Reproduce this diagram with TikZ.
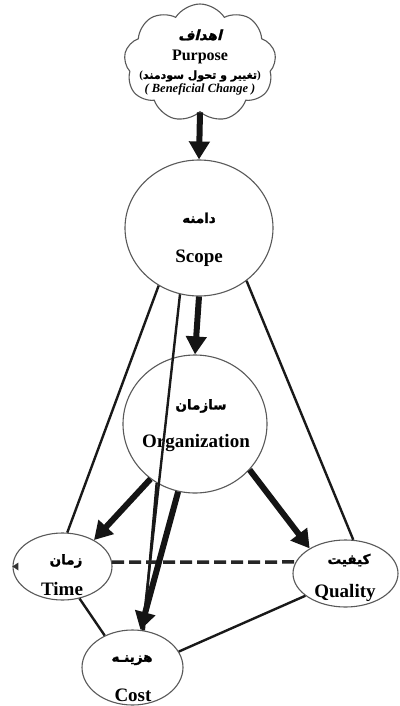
\documentclass[tikz,border=0pt]{standalone}
\usepackage{fontspec}
\setmainfont{Liberation Serif}
\newfontfamily\faB[Script=Arabic,FakeBold=1.5]{DejaVu Sans Bold}
\newfontfamily\faSl[Script=Arabic,FakeSlant=0.25,FakeBold=1.5]{DejaVu Sans Bold}
\TeXXeTstate=1
\usetikzlibrary{shapes.geometric,shapes.symbols,arrows.meta}
\begin{document}
\begin{tikzpicture}[x=1pt,y=-1pt,
  shapeline/.style={draw=black!65, line width=1.1pt},
  bubble/.style={shapeline, ellipse, inner sep=0pt},
  lbl/.style={inner sep=0pt},
  lat/.style={lbl, font=\bfseries\fontsize{19}{19}\selectfont},
  far/.style={lbl, font=\faB\fontsize{13.5}{13.5}\selectfont},
  bigarrow/.style={line width=6pt, black!92, -{Triangle[length=18pt,width=20pt]}},
  thinl/.style={line width=2.4pt, black!90},
  dashl/.style={line width=3.5pt, black!85, dash pattern=on 12pt off 5pt}]
\useasboundingbox (0,0) rectangle (399,706);
\fill[white] (0,0) rectangle (399,706);

% shapes
\node[cloud, shapeline, cloud puffs=9, cloud puff arc=115, cloud ignores aspect,
      minimum width=152pt, minimum height=118pt, inner sep=0pt] (cloud) at (200,63) {};
\node[bubble, minimum width=148pt, minimum height=136pt] (scope) at (199,228) {};
\node[bubble, minimum width=144pt, minimum height=138pt] (org) at (195,424) {};
\node[bubble, minimum width=99pt, minimum height=67pt] (time) at (62.5,566.5) {};
\node[bubble, minimum width=105pt, minimum height=67pt] (quality) at (345.5,573.5) {};
\node[bubble, minimum width=101pt, minimum height=75pt] (cost) at (132.5,667.5) {};

% labels
\node[lbl, font=\faSl\fontsize{14}{14}\selectfont] (purposefa) at (200,35) {\beginR اهداف\endR};
\node[lbl, font=\bfseries\fontsize{16}{16}\selectfont] (purpose) at (200,57) {Purpose};
\node[lbl, font=\faB\fontsize{11}{11}\selectfont] (changefa) at (200,76) {{\rmfamily\bfseries(}\beginR تغییر و تحول سودمند\endR{\rmfamily\bfseries)}};
\node[lbl, font=\bfseries\itshape\fontsize{12.5}{12.5}\selectfont] (change) at (200,89) {( Beneficial Change )};

\node[far] (scopefa) at (199,218) {\beginR دامنه\endR};
\node[lat] (scopeen) at (199,258) {Scope};
\node[far] (orgfa) at (201,406) {\beginR سازمان\endR};
\node[lat] (orgen) at (196,443) {Organization};
\node[far] (timefa) at (66,561) {\beginR زمان\endR};
\node[lat] (timeen) at (62,589) {Time};
\node[far] (qualfa) at (349,560) {\beginR کیفیت\endR};
\node[lat] (qualen) at (345,593) {Quality};
\node[far] (costfa) at (132,660) {\beginR هزینـه\endR};
\node[lat] (costen) at (133,695) {Cost};

% connectors
\draw[thinl] (scope.235) -- (time.82);
\draw[thinl] (scope.312) -- (quality.77);
\draw[thinl] (scope.254) -- (cost.75);
\draw[thinl] (org.237) -- (cost.73);
\draw[thinl] (time.298) -- (cost.131);
\draw[thinl] (quality.209) -- (cost.19);
\draw[dashl] (time.5) -- (quality.167);
\draw[bigarrow] (cloud.south) -- (scope.north);
\draw[bigarrow] (scope.south) -- (org.north);
\draw[bigarrow] (org.231) -- (time.40);
\draw[bigarrow] (org.256) -- (cost.78);
\draw[bigarrow] (org.-40) -- (quality.145);
\fill[black!80] (time.west) -- ++(6,-4) -- ++(0,8) -- cycle;
\end{tikzpicture}
\end{document}
